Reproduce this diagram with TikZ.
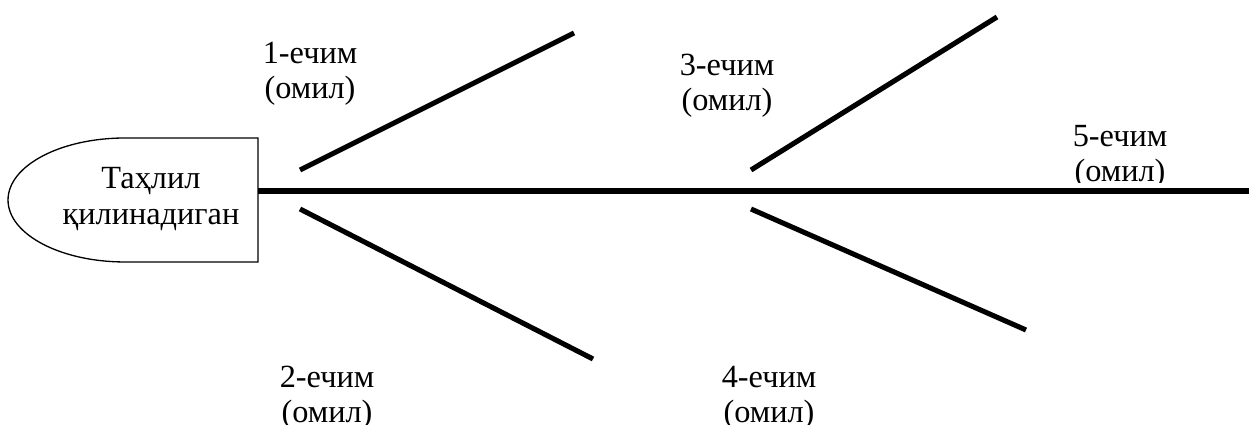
\documentclass[tikz,border=0pt]{standalone}
\usepackage{fontspec}
\setmainfont{Liberation Serif}
\tikzset{
  bone/.style={line width=2.9pt, black},
  headbox/.style={line width=0.75pt, black},
  lbl/.style={inner sep=0pt, align=center, font=\fontsize{18.4}{20}\selectfont}
}
\begin{document}
\begin{tikzpicture}[x=0.02cm, y=-0.02cm]
\useasboundingbox (0,0) rectangle (1249,425);
% head
\draw[headbox] (258,138) -- (125,138) arc[start angle=90, end angle=270, x radius=2.34cm, y radius=1.24cm] -- (258,262) -- cycle;
\node[lbl] (head) at (151,199) {Таҳлил\\қилинадиган};
% spine
\coordinate (s0) at (258,191);
\coordinate (s1) at (1249,191);
\draw[bone] (s0) -- (s1);
% branches
\coordinate (a1) at (300,170); \coordinate (b1) at (574,33);
\coordinate (a2) at (300,209); \coordinate (b2) at (593,359);
\coordinate (a3) at (751,170); \coordinate (b3) at (997,17);
\coordinate (a4) at (751,209); \coordinate (b4) at (1026,330);
\draw[bone] (a1) -- (b1);
\draw[bone] (a2) -- (b2);
\draw[bone] (a3) -- (b3);
\draw[bone] (a4) -- (b4);
% labels
\node[lbl] (l1) at (310,74) {1-ечим\\(омил)};
\node[lbl] (l3) at (727,86) {3-ечим\\(омил)};
\node[lbl] (l2) at (327,398) {2-ечим\\(омил)};
\node[lbl] (l4) at (769,398) {4-ечим\\(омил)};
\begin{scope}
\clip (1000,100) rectangle (1249,183);
\node[lbl] (l5) at (1120,157) {5-ечим\\(омил)};
\end{scope}
\end{tikzpicture}
\end{document}
